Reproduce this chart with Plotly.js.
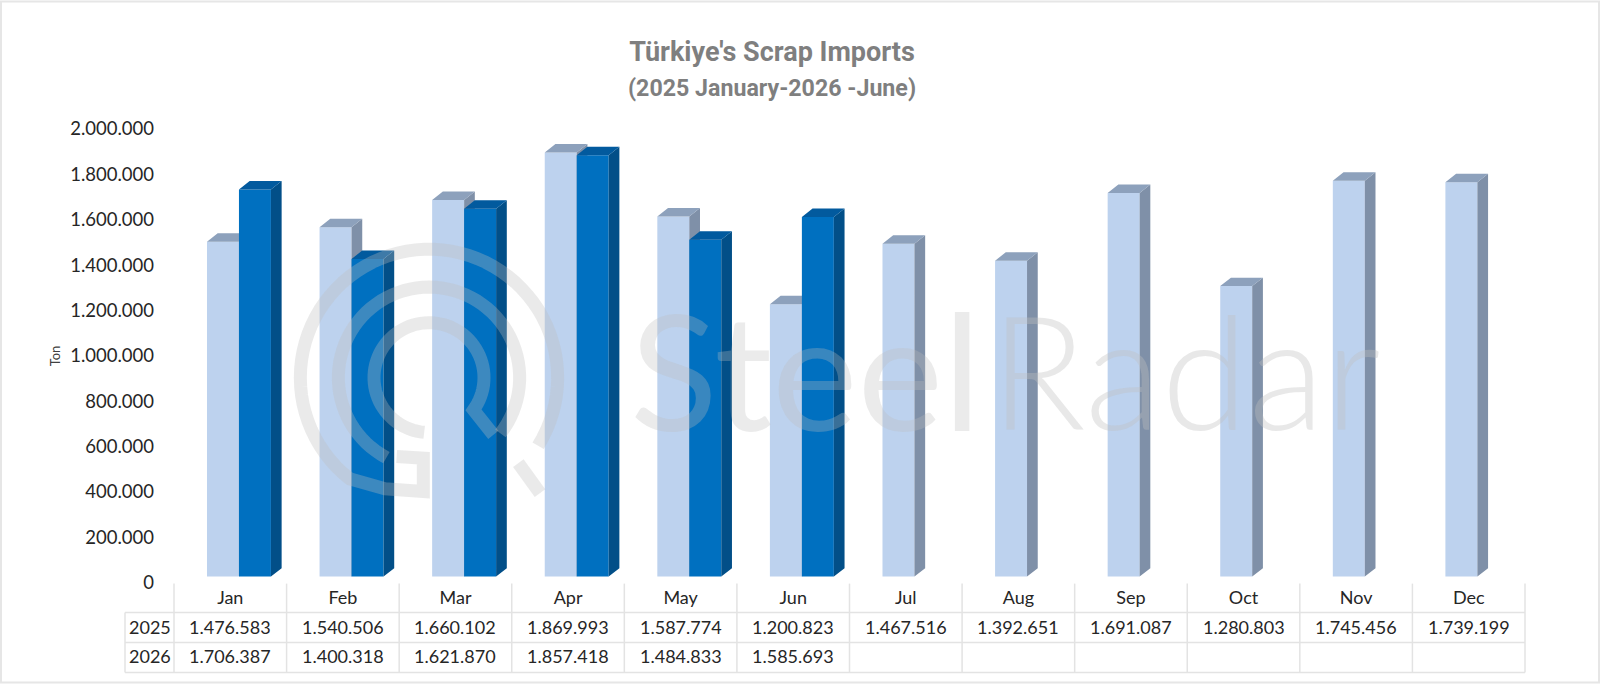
<!DOCTYPE html>
<html>
<head>
<meta charset="utf-8">
<script src="https://cdn.plot.ly/plotly-3.0.1.min.js"></script>
<style>html,body{margin:0;padding:0;background:#fff}#chart{width:1600px;height:685px}</style>
</head>
<body>
<div id="chart"></div>
<script>
const months = ['Jan','Feb','Mar','Apr','May','Jun','Jul','Aug','Sep','Oct','Nov','Dec'];
const imports2025 = [1476583,1540506,1660102,1869993,1587774,1200823,1467516,1392651,1691087,1280803,1745456,1739199];
const imports2026 = [1706387,1400318,1621870,1857418,1484833,1585693,null,null,null,null,null,null];
const yTicks = [0,200000,400000,600000,800000,1000000,1200000,1400000,1600000,1800000,2000000];

const W = 1600, H = 685;
const L = 174, R = 1525, T = 122.6, B = 589.4;
const px = x => (x - L) / (R - L);
const py = y => (B - y) / (B - T);
const dots = v => String(v).replace(/\B(?=(\d{3})+(?!\d))/g, '.');

const barWidth = 0.284, off25 = -0.207, off26 = 0.077;
const depthX = 0.095, depthY = 37400;

function faces(vals, off) {
  const side = {x: [], y: []}, top = {x: [], y: []};
  vals.forEach((v, i) => {
    if (v === null) return;
    const x0 = i + off, x1 = x0 + barWidth;
    top.x.push(x0, x1, x1 + depthX, x0 + depthX, x0, null);
    top.y.push(v, v, v + depthY, v + depthY, v, null);
    side.x.push(x1, x1 + depthX, x1 + depthX, x1, x1, null);
    side.y.push(0, depthY, v + depthY, v, 0, null);
  });
  return {side, top};
}
function poly(f, color, xa, ya) {
  return {type:'scatter', mode:'lines', x:f.x, y:f.y, fill:'toself', fillcolor:color,
    line:{width:0, color:color}, hoverinfo:'skip', showlegend:false, xaxis:xa, yaxis:ya};
}
const f25 = faces(imports2025, off25), f26 = faces(imports2026, off26);
const idx = months.map((m, i) => i);

const traces = [
  {type:'bar', name:'2025', x:idx, y:imports2025, width:barWidth, offset:off25,
   marker:{color:'#BDD2EE', line:{width:0}}, xaxis:'x', yaxis:'y'},
  poly(f25.side, '#7F90A8', 'x', 'y'),
  poly(f25.top, '#8DA1BC', 'x', 'y'),
  {type:'bar', name:'2026', x:idx, y:imports2026, width:barWidth, offset:off26,
   marker:{color:'#0070C0', line:{width:0}}, xaxis:'x2', yaxis:'y2'},
  poly(f26.side, '#024F88', 'x2', 'y2'),
  poly(f26.top, '#025A9E', 'x2', 'y2')
];

const tableFont = {family:'Lato, sans-serif', size:18, color:'#262626'};
const annotations = [];
function cell(text, xp, yp) {
  annotations.push({text, xref:'paper', yref:'paper', x:px(xp), y:py(yp), showarrow:false,
    xanchor:'center', yanchor:'middle', font:tableFont});
}
const cellW = (R - L) / 12;
cell('2025', 149.5, 627);
cell('2026', 149.5, 657);
months.forEach((m, i) => {
  const c = L + cellW * (i + 0.5);
  cell(dots(imports2025[i]), c, 627);
  if (imports2026[i] !== null) cell(dots(imports2026[i]), c, 657);
});

// watermark text
function mark(text, xp, size, color, weight) {
  annotations.push({text, xref:'paper', yref:'paper', x:px(xp), y:py(369), showarrow:false,
    xanchor:'left', yanchor:'middle', font:{family:'Lato, sans-serif', size:size, weight:weight, color:color}});
}
mark('Steel', 628, 162, 'rgba(190,190,190,0.30)', 400);
mark('Radar', 988, 158, 'rgba(190,190,190,0.36)', 300);

const shapes = [];
const tableLine = {color:'#E3E3E3', width:1.5};
function seg(x0, y0, x1, y1, line) {
  shapes.push({type:'line', xref:'paper', yref:'paper', x0:px(x0), y0:py(y0), x1:px(x1), y1:py(y1), line, layer:'below'});
}
for (let i = 0; i <= 12; i++) seg(L + cellW * i, 584, L + cellW * i, 673, tableLine);
seg(125, 613, 125, 673, tableLine);
[613, 643, 673].forEach(y => seg(125, y, R, y, tableLine));

// page frame
shapes.push({type:'rect', xref:'paper', yref:'paper', x0:px(1), y0:py(1), x1:px(W - 1), y1:py(H - 2),
  line:{color:'#E6E6E6', width:2}, fillcolor:'rgba(0,0,0,0)', layer:'below'});

// watermark logo, given in the crop's units (3 per pixel, origin 285,235)
const zx = v => px(285 + v / 3), zy = v => py(235 + v / 3);
const logoColor = 'rgba(190,190,190,0.32)';
function arc(cx, cy, r, a0, a1) {
  const pts = [];
  const n = Math.ceil(Math.abs(a1 - a0) / 4);
  for (let k = 0; k <= n; k++) {
    const a = (a0 + (a1 - a0) * k / n) * Math.PI / 180;
    pts.push([cx + r * Math.cos(a), cy + r * Math.sin(a)]);
  }
  return pts;
}
function logoPath(pts) {
  const d = pts.map((p, i) => (i ? 'L' : 'M') + zx(p[0]).toFixed(5) + ',' + zy(p[1]).toFixed(5)).join(' ');
  shapes.push({type:'path', xref:'paper', yref:'paper', path:d, layer:'above',
    line:{color:logoColor, width:13}, fillcolor:'rgba(0,0,0,0)'});
}
logoPath(arc(432, 428, 386, 32, -232).concat([[300, 762], [415, 770], [415, 670], [335, 665]]));
logoPath(arc(432, 428, 272, 118, 398));
logoPath(arc(432, 428, 165, 95, 396).concat([[625, 600]]));
logoPath([[700, 685], [765, 775]]);

const hiddenX = {range:[-0.5, 11.5], overlaying:'x', visible:false, fixedrange:true};
const hiddenY = {range:[-54600, 2000000], overlaying:'y', visible:false, fixedrange:true};

const layout = {
  width:W, height:H, paper_bgcolor:'#fff', plot_bgcolor:'rgba(0,0,0,0)',
  margin:{l:L, r:W - R, t:T, b:H - B, pad:0},
  showlegend:false, barmode:'overlay', hovermode:false,
  title:{
    text:"<b>Türkiye's Scrap Imports</b><br><b><span style=\"font-size:23.2px\">(2025 January-2026 -June)</span></b>",
    x:772 / W, xanchor:'center', y:1 - 61 / H, yanchor:'top',
    font:{family:'Roboto, sans-serif', size:27, color:'#7F7F7F'}
  },
  xaxis:{range:[-0.5, 11.5], tickmode:'array', tickvals:idx, ticktext:months, showgrid:false, zeroline:false,
    showline:false, ticks:'', ticklabelstandoff:-4, tickfont:{family:'Lato, sans-serif', size:18, color:'#262626'}, fixedrange:true, tickangle:0},
  yaxis:{range:[-54600, 2000000], tickmode:'array', tickvals:yTicks, ticktext:yTicks.map(dots),
    showgrid:false, zeroline:false, showline:false, ticks:'', ticklabelstandoff:19, ticklabelshift:6,
    tickfont:{family:'Lato, sans-serif', size:18.5, color:'#262626'}, fixedrange:true,
    title:{text:'Ton', standoff:6, font:{family:'Lato, sans-serif', size:13, color:'#404040'}}},
  xaxis2:hiddenX, yaxis2:hiddenY,
  shapes, annotations
};
Plotly.newPlot('chart', traces, layout, {displayModeBar:false, staticPlot:true});
</script>
</body>
</html>
